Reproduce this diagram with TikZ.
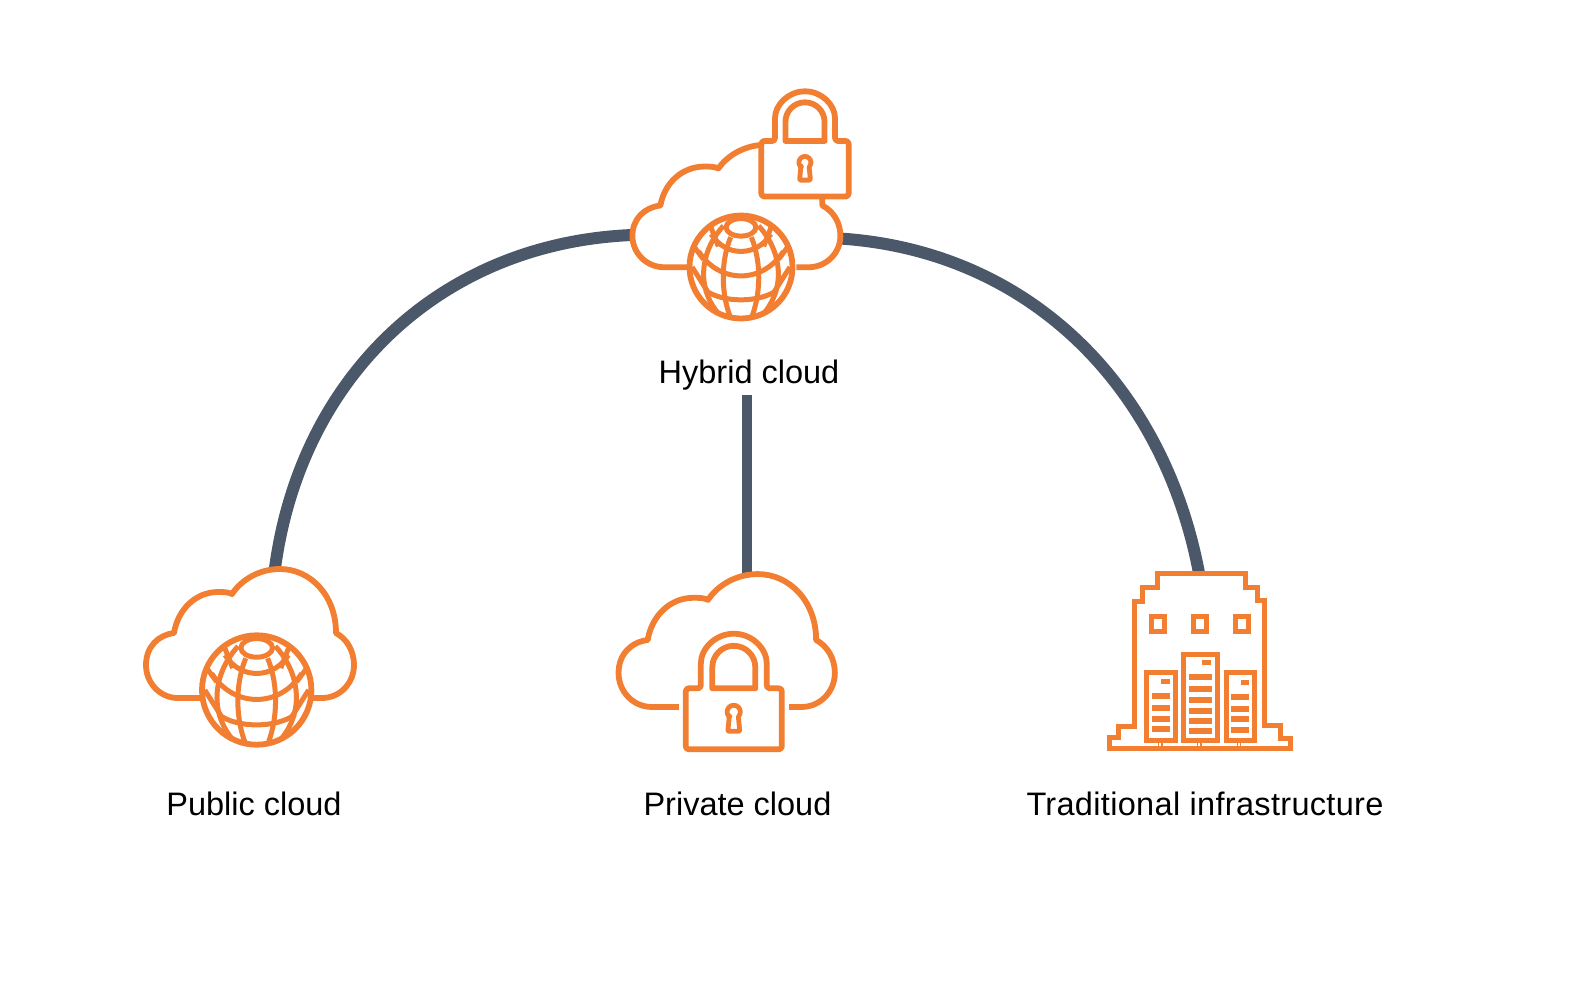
\documentclass[tikz,border=0pt]{standalone}
\usepackage{fontspec}
\setmainfont{Liberation Sans}
\definecolor{iconorange}{HTML}{F27E31}
\definecolor{linkslate}{HTML}{4A5869}
\tikzset{
  link/.style={line width=12pt, color=linkslate},
  icon/.style={line width=5.8pt, color=iconorange, line join=round},
  label/.style={font=\fontsize{32.5}{38}\selectfont, text=black, inner sep=0pt},
  cloudicon/.pic={
    \draw[icon] (-46,65) -- (-72,65) .. controls (-90,65) and (-104,50) .. (-104,32)
      .. controls (-104,14) and (-92,2) .. (-76,0)
      .. controls (-72,-24) and (-54,-41) .. (-32,-41)
      .. controls (-27,-41) and (-22,-41) .. (-18,-39)
      .. controls (-8,-54) and (10,-64) .. (30,-64)
      .. controls (60,-64) and (86,-38) .. (86,0)
      .. controls (97,6) and (104,18) .. (104,32)
      .. controls (104,50) and (90,65) .. (72,65) -- (60,65);
  },
  lockicon/.pic={
    \draw[icon, fill=white, rounded corners=3pt] (-33,0) -- (-33,-21.6)
      arc[start angle=180, end angle=360, radius=33] -- (33,0)
      -- (48,0) -- (48,61) -- (-48,61) -- (-48,0) -- cycle;
    \draw[icon] (-21.5,0) -- (-21.5,-21)
      arc[start angle=180, end angle=360, radius=21.5] -- (21.5,0) -- cycle;
    \draw[icon, line width=4.8pt, rounded corners=1pt] (-4.5,28) -- (-6,43) -- (6,43) -- (4.5,28)
      arc[start angle=45, end angle=-225, radius=6.5] -- cycle;
  },
  globeline/.style={icon, line width=5pt},
  globeicon/.pic={
    \draw[icon, fill=white] (0,0) circle[radius=1];
    \draw[globeline] (0,-.77) ellipse[x radius=.29, y radius=.17];
    \draw[globeline] (-.58,-.64) .. controls (-.3,-.19) and (.3,-.19) .. (.58,-.64);
    \draw[globeline] (-.82,-.3) .. controls (-.42,.33) and (.42,.33) .. (.82,-.3);
    \draw[globeline] (-.7,.45) .. controls (-.35,.7) and (.35,.7) .. (.7,.45);
    \foreach \s in {-1,1} {
      \draw[globeline, xscale=\s] (-.2,-.58) .. controls (-.36,-.2) and (-.42,.4) .. (-.21,.97);
      \draw[globeline, xscale=\s] (-.34,-.8) .. controls (-.72,-.4) and (-.92,.3) .. (-.46,.88);
      \draw[globeline, xscale=\s] (-.95,0) -- (-.62,.52);
      \draw[globeline, xscale=\s] (-.58,-.76) -- (-.44,-.4);
      \draw[globeline, xscale=\s] (-.9,-.38) -- (-.73,-.15);
    }
  },
}
\begin{document}
\begin{tikzpicture}[x=1pt, y=-1pt]
\useasboundingbox (0,0) rectangle (1582,986);
% connector ends
\coordinate (HybridW) at (632,235);
\coordinate (HybridE) at (840,238.5);
\coordinate (HybridS) at (747,395);
\coordinate (PublicN) at (275,568);
\coordinate (PrivateN) at (747,576);
\coordinate (TradN) at (1199,573);
\draw[link] (PublicN) .. controls (301,376) and (441,243) .. (HybridW);
\draw[link] (HybridE) .. controls (1031,251) and (1164,388) .. (TradN);
\draw[link, line width=10pt] (HybridS) -- (PrivateN);
% public cloud
\pic at (250,633) {cloudicon};
\pic[scale=54.7] at (256.7,690) {globeicon};
% hybrid cloud
\pic[yscale=.95] at (736.4,205.5) {cloudicon};
\pic[scale=51.5] at (741,267) {globeicon};
\pic[scale=.91] at (805,141) {lockicon};
% private cloud
\pic[xscale=1.04, yscale=1.03] at (726.7,640) {cloudicon};
\pic at (733.8,688.3) {lockicon};
% traditional infrastructure
\begin{scope}[shift={(1085,555)}, x=1/3*1pt, y=-1/3*1pt]
\draw[icon, line width=5pt, line join=miter] (72,580) -- (72,547) -- (100,547) -- (100,515) -- (148,515) -- (148,138)
  -- (172,138) -- (172,97) -- (217,97) -- (217,54) -- (480,54) -- (480,97) -- (518,97) -- (518,135)
  -- (537,135) -- (537,510) -- (585,510) -- (585,550) -- (615,550) -- (615,580) -- cycle;
\foreach \x in {200,326,451}
  \draw[icon, line width=5pt, line join=miter] (\x,184) rectangle ++(38,46);
\draw[icon, line width=5pt, line join=miter] (184,352) rectangle (271,555);
\draw[icon, line width=5pt, line join=miter] (296,298) rectangle (396,555);
\draw[icon, line width=5pt, line join=miter] (423,352) rectangle (509,555);
\fill[iconorange] (229,372) rectangle (254,387);
\fill[iconorange] (352,315) rectangle (378,330);
\fill[iconorange] (467,375) rectangle (492,390);
\foreach \y in {415,451,482,514}
  \fill[iconorange] (201,\y) rectangle ++(54,18);
\foreach \y in {357,392,427,459,489,519}
  \fill[iconorange] (313,\y) rectangle ++(67,18);
\foreach \y in {418,454,484,517}
  \fill[iconorange] (439,\y) rectangle ++(54,18);
\foreach \x in {220,231,338,348,457,467}
  \draw[iconorange, line width=1.5pt] (\x,555) -- (\x,575);
\end{scope}
% labels
\node[label] (Hybrid) at (749,375.5) {Hybrid cloud};
\node[label] (Public) at (254,804) {Public cloud};
\node[label] (Private) at (737.5,804) {Private cloud};
\node[label, font=\fontsize{32.5}{38}\selectfont\addfontfeature{LetterSpace=1}] (Trad) at (1205,804) {Traditional infrastructure};
\end{tikzpicture}
\end{document}
